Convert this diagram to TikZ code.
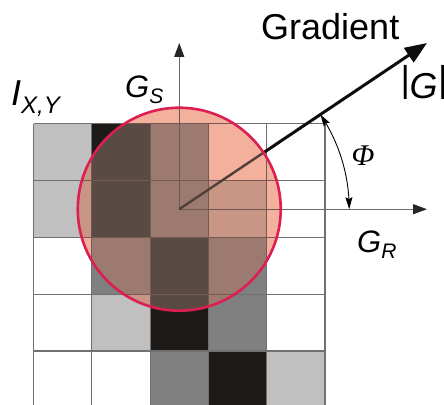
\documentclass[tikz,border=0pt]{standalone}
\usepackage{fontspec}
\setmainfont{Liberation Sans}
\newfontfamily\phifont{Liberation Serif}
\usetikzlibrary{arrows.meta,bending}
\definecolor{cL}{HTML}{C0C0C0}
\definecolor{cM}{HTML}{808080}
\definecolor{cB}{HTML}{1E1A18}
\definecolor{cW}{HTML}{FFFFFF}
\definecolor{cLP}{HTML}{C99585}
\definecolor{cMP}{HTML}{9C7A70}
\definecolor{cBP}{HTML}{5A4A44}
\definecolor{cWP}{HTML}{F3B09C}
\definecolor{gridc}{HTML}{707070}
\definecolor{gridcP}{HTML}{745A52}
\definecolor{axisc}{HTML}{6A6A6A}
\definecolor{axiscP}{HTML}{6E5650}
\definecolor{gradcP}{HTML}{504039}
\definecolor{ringc}{HTML}{DC1E50}
\def\cellrows{0/{L,B,M,W,W},1/{L,B,M,L,W},2/{W,M,B,M,W},3/{W,L,B,M,W},4/{W,W,M,B,L}}
\newcommand\mycells[1]{%
  \foreach \r/\cs in \cellrows {%
    \foreach \c [count=\i from 0] in \cs {%
      \fill[c\c#1] ({33.5+58.3*\i},{123.8+56.8*\r}) rectangle ++(58.3,56.8);
    }}}
\newcommand\mygrid[1]{%
  \foreach \i in {0,...,5} {\draw[gridline,#1] ({33.5+58.3*\i},123.8) -- ({33.5+58.3*\i},412);}
  \foreach \j in {0,...,4} {\draw[gridline,#1] (33.5,{123.8+56.8*\j}) -- (325,{123.8+56.8*\j});}}
\begin{document}
\begin{tikzpicture}[x=1pt,y=-1pt,
  gridline/.style={line width=1.2pt},
  axisline/.style={line width=1.2pt},
  axistip/.style={-{Triangle[length=14pt,width=10pt,color=black!85]}},
  gradline/.style={line width=3pt},
  ring/.style={draw=ringc,line width=2.6pt},
  phiarc/.style={line width=0.9pt,{Stealth[length=12pt,width=7pt,inset=2pt]}-{Stealth[length=12pt,width=7pt,inset=2pt]}},
  lbl/.style={inner sep=0pt,font=\itshape}]
\useasboundingbox (0,0) rectangle (444,404);
\coordinate (O) at (179.25,209.2);
\coordinate (S) at (179.25,43);
\coordinate (R) at (427,209.2);
\coordinate (G) at (427,43);
% cells
\mycells{}
\mygrid{draw=gridc}
% axes and gradient
\draw[axisline,draw=axisc,axistip] (O) -- (S);
\draw[axisline,draw=axisc,axistip] (O) -- (R);
\draw[gradline,draw=black!95,-{Triangle[length=22pt,width=17pt]}] (O) -- (G);
% tinted circle interior
\begin{scope}
  \clip (O) circle (101.5);
  \fill[cWP] (O) circle (102);
  \mycells{P}
  \mygrid{draw=gridcP}
  \draw[axisline,draw=axiscP] (O) -- (S);
  \draw[axisline,draw=axiscP] (O) -- (R);
  \draw[line width=2.4pt,draw=gradcP] (O) -- (G);
\end{scope}
\draw[ring] (O) circle (101.5);
% angle arc
\draw[phiarc] ([shift={(-33.85:170)}]O) arc[start angle=-33.85,end angle=0,radius=170];
% labels
\node[inner sep=0pt,anchor=base west,font=\fontsize{36}{36}\selectfont] (tgrad) at (261,40) {Gradient};
\node[lbl,anchor=base west] (tabs) at (400,98) {\fontsize{36}{36}\selectfont\raisebox{7pt}{|}G\raisebox{7pt}{|}};
\node[lbl,anchor=base west] (tI) at (11,105) {\fontsize{36}{36}\selectfont I\raisebox{-8pt}{\fontsize{24}{24}\selectfont X,Y}};
\node[lbl,anchor=base west] (tGS) at (125,97) {\fontsize{31}{31}\selectfont G\raisebox{-6pt}{\fontsize{21}{21}\selectfont S}};
\node[lbl,anchor=base west] (tGR) at (357,252) {\fontsize{31}{31}\selectfont G\raisebox{-6pt}{\fontsize{21}{21}\selectfont R}};
\node[inner sep=0pt] (tphi) at (363,156) {\phifont\itshape\fontsize{30}{30}\selectfont Φ};
\end{tikzpicture}
\end{document}
